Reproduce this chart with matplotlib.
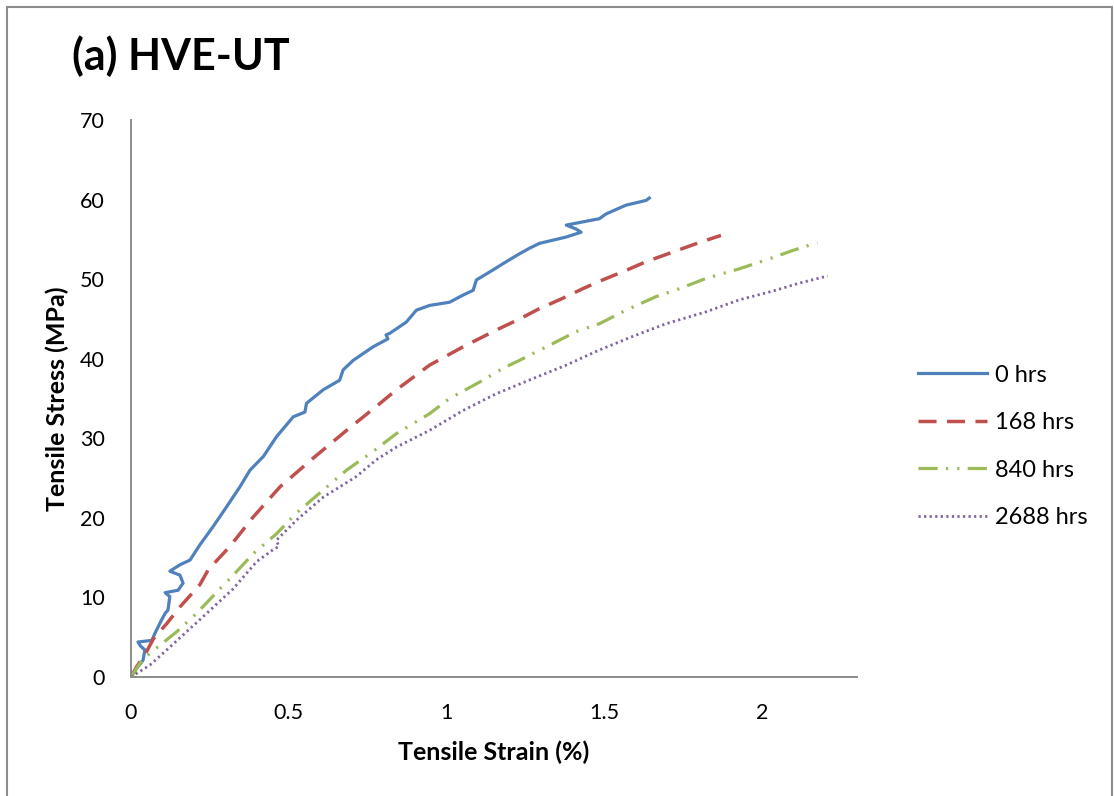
import matplotlib
matplotlib.use("Agg")
import matplotlib.pyplot as plt
from matplotlib.patches import Rectangle

plt.rcParams['font.family'] = ['Lato', 'DejaVu Sans']

# Tensile stress-strain curves for each ageing time
series_labels = ["0 hrs", "168 hrs", "840 hrs", "2688 hrs"]

strain_0 = [0, 0.02, 0.038, 0.044, 0.03, 0.022, 0.066, 0.076, 0.092, 0.108, 0.117,
            0.123, 0.108, 0.149, 0.165, 0.155, 0.123, 0.155, 0.187, 0.218, 0.26,
            0.303, 0.345, 0.377, 0.419, 0.461, 0.514, 0.551, 0.556, 0.609, 0.661,
            0.672, 0.704, 0.767, 0.814, 0.808, 0.820, 0.872, 0.904, 0.946, 1.009,
            1.052, 1.084, 1.094, 1.136, 1.189, 1.231, 1.263, 1.294, 1.379, 1.426,
            1.41, 1.379, 1.484, 1.505, 1.568, 1.632, 1.642]
stress_0 = [0, 1.2, 2.1, 3.4, 3.9, 4.4, 4.6, 5.5, 6.8, 8.0, 8.4,
            10.1, 10.6, 10.9, 11.8, 12.8, 13.3, 14.1, 14.7, 16.6, 18.9,
            21.4, 23.9, 26.0, 27.7, 30.2, 32.7, 33.3, 34.4, 36.1, 37.3,
            38.6, 39.8, 41.5, 42.5, 43.0, 43.2, 44.6, 46.1, 46.7, 47.1,
            48.0, 48.6, 49.9, 50.9, 52.2, 53.2, 53.9, 54.5, 55.3, 55.9,
            56.3, 56.8, 57.6, 58.2, 59.3, 59.9, 60.2]

strain_168 = [0, 0.018, 0.044, 0.071, 0.113, 0.155, 0.218, 0.245, 0.313, 0.387,
              0.472, 0.577, 0.683, 0.783, 0.841, 0.946, 1.052, 1.157, 1.231, 1.294,
              1.368, 1.431, 1.494, 1.568, 1.632, 1.716, 1.80, 1.869]
stress_168 = [0, 1.3, 2.8, 4.8, 6.7, 8.8, 11.6, 13.5, 16.4, 20.1,
              23.9, 27.5, 31.0, 34.2, 36.1, 39.2, 41.5, 43.6, 45.0, 46.3,
              47.6, 48.8, 49.9, 51.1, 52.2, 53.4, 54.6, 55.5]

strain_840 = [0, 0.028, 0.06, 0.092, 0.145, 0.208, 0.282, 0.324, 0.387, 0.461,
              0.524, 0.609, 0.683, 0.772, 0.841, 0.946, 1.009, 1.115, 1.178, 1.231,
              1.326, 1.41, 1.484, 1.568, 1.663, 1.737, 1.822, 1.927, 2.011, 2.096,
              2.175]
stress_840 = [0, 1.7, 3.0, 4.0, 5.7, 8.0, 11.1, 12.8, 15.5, 18.0,
              20.6, 23.5, 26.0, 28.5, 30.6, 33.1, 35.0, 37.3, 38.8, 39.8,
              41.7, 43.4, 44.4, 46.1, 47.8, 48.8, 50.1, 51.3, 52.4, 53.6,
              54.6]

strain_2688 = [0, 0.06, 0.113, 0.218, 0.324, 0.398, 0.45, 0.468, 0.461, 0.524,
               0.609, 0.714, 0.777, 0.841, 0.946, 1.052, 1.157, 1.273, 1.379, 1.484,
               1.589, 1.695, 1.822, 1.927, 2.033, 2.117, 2.207]
stress_2688 = [0, 1.5, 3.4, 7.2, 11.1, 14.5, 16.0, 16.4, 17.2, 19.7,
               22.6, 25.2, 27.3, 28.9, 31.0, 33.5, 35.6, 37.5, 39.2, 41.1,
               42.8, 44.4, 45.9, 47.4, 48.5, 49.5, 50.4]

x_ticks = [0, 0.5, 1, 1.5, 2]
x_tick_labels = ["0", "0.5", "1", "1.5", "2"]
y_ticks = [0, 10, 20, 30, 40, 50, 60, 70]

fig = plt.figure(figsize=(11.14, 7.96), dpi=100)
ax = fig.add_axes([0.1176, 0.1495, 0.6517, 0.6997])

ax.plot(strain_0, stress_0, color="#4F81BD", lw=2.3, solid_joinstyle="round",
        label=series_labels[0])
ax.plot(strain_168, stress_168, color="#C0504D", lw=2.5, dashes=(5.2, 3.0),
        label=series_labels[1])
ax.plot(strain_840, stress_840, color="#9BBB59", lw=2.3,
        dashes=(6.0, 2.6, 0.7, 2.8, 0.7, 2.6), label=series_labels[2])
ax.plot(strain_2688, stress_2688, color="#8064A2", lw=2.0, dashes=(0.8, 1.2),
        label=series_labels[3])

ax.set_xlim(0, 2.3)
ax.set_ylim(0, 70)
ax.set_xticks(x_ticks)
ax.set_xticklabels(x_tick_labels)
ax.set_yticks(y_ticks)
ax.tick_params(length=0, labelsize=15.5)
ax.tick_params(axis="x", pad=19)
ax.tick_params(axis="y", pad=19)

for side in ("top", "right"):
    ax.spines[side].set_visible(False)
for side in ("left", "bottom"):
    ax.spines[side].set_color("#8C8C8C")
    ax.spines[side].set_linewidth(1.4)

ax.set_xlabel("Tensile Strain (%)", fontsize=18, fontweight="bold", labelpad=12)
ax.set_ylabel("Tensile Stress (MPa)", fontsize=18, fontweight="bold", labelpad=8)

fig.text(0.0646, 0.912, "(a) HVE-UT", fontsize=31, fontweight="bold",
         ha="left", va="baseline")

leg = ax.legend(loc="center left", bbox_to_anchor=(1.055, 0.414), frameon=False,
                fontsize=17, handlelength=2.9, handletextpad=0.35,
                labelspacing=1.12)

# chart area border
fig.patches.append(Rectangle((6.5 / 1114, -0.05), 1105.5 / 1114, 1.05 - 7 / 796,
                             transform=fig.transFigure, fill=False,
                             edgecolor="#8C8C8C", linewidth=1.5))

fig.savefig("out.png", dpi=100)
